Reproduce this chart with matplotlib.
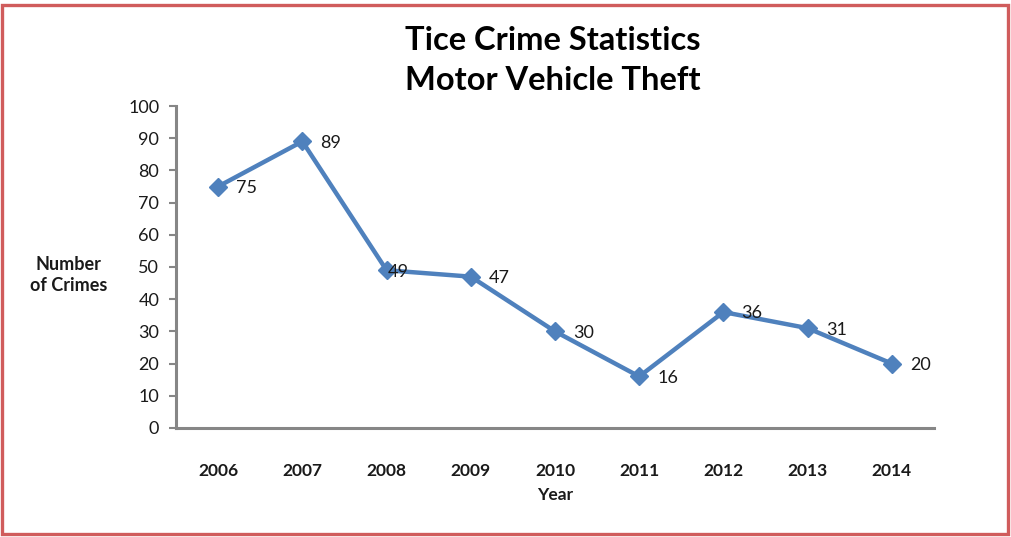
import matplotlib
matplotlib.use('Agg')
import matplotlib.pyplot as plt
from matplotlib.patches import Rectangle

plt.rcParams['font.family'] = ['Lato', 'DejaVu Sans']

years = ['2006', '2007', '2008', '2009', '2010', '2011', '2012', '2013', '2014']
thefts = [75, 89, 49, 47, 30, 16, 36, 31, 20]
y_ticks = [0, 10, 20, 30, 40, 50, 60, 70, 80, 90, 100]

LINE = '#4F81BD'
SPINE = '#868686'
TEXT = '#1a1a1a'

fig = plt.figure(figsize=(10.11, 5.37), dpi=100)
ax = fig.add_axes([0.1741, 0.2030, 0.7497, 0.5996])

x = list(range(len(years)))
ax.plot(x, thefts, color=LINE, lw=3.2, marker='D', ms=9, mec=LINE, mfc=LINE,
        solid_joinstyle='round', clip_on=False, zorder=3)

# value labels sit to the right of each point; 2008 is pulled in by the axis
for i, v in enumerate(thefts):
    dx = 1 if years[i] == '2008' else 13
    ax.annotate(str(v), (i, v), xytext=(dx, -1), textcoords='offset points',
                ha='left', va='center', fontsize=13, color=TEXT, zorder=4)

ax.set_xlim(-0.5, len(years) - 0.5)
ax.set_ylim(0, 100)
ax.set_yticks(y_ticks)
ax.set_xticks(x)
ax.set_xticklabels(years, fontweight='bold', fontsize=12.5, color=TEXT)
ax.tick_params(axis='x', length=0, pad=25)
ax.tick_params(axis='y', length=5, width=1.5, color=SPINE, labelsize=13,
               labelcolor=TEXT, pad=7)

for side in ('top', 'right'):
    ax.spines[side].set_visible(False)
for side in ('left', 'bottom'):
    ax.spines[side].set_color(SPINE)
    ax.spines[side].set_linewidth(2.2)

ax.set_xlabel('Year', fontweight='bold', fontsize=12.5, color=TEXT, labelpad=6)
fig.text(0.068, 0.488, 'Number\nof Crimes', ha='center', va='center',
         fontweight='bold', fontsize=13, color=TEXT, linespacing=1.25)

fig.text(0.547, 0.887, 'Tice Crime Statistics\nMotor Vehicle Theft',
         ha='center', va='center', fontweight='bold', fontsize=23.5,
         color='black', linespacing=1.45)

# red frame around the whole chart
fig.patches.append(Rectangle((0.002, 0.006), 0.995, 0.985, transform=fig.transFigure,
                             fill=False, ec='#D05C5C', lw=2.4))

fig.savefig('out.png', dpi=100, facecolor='white')
